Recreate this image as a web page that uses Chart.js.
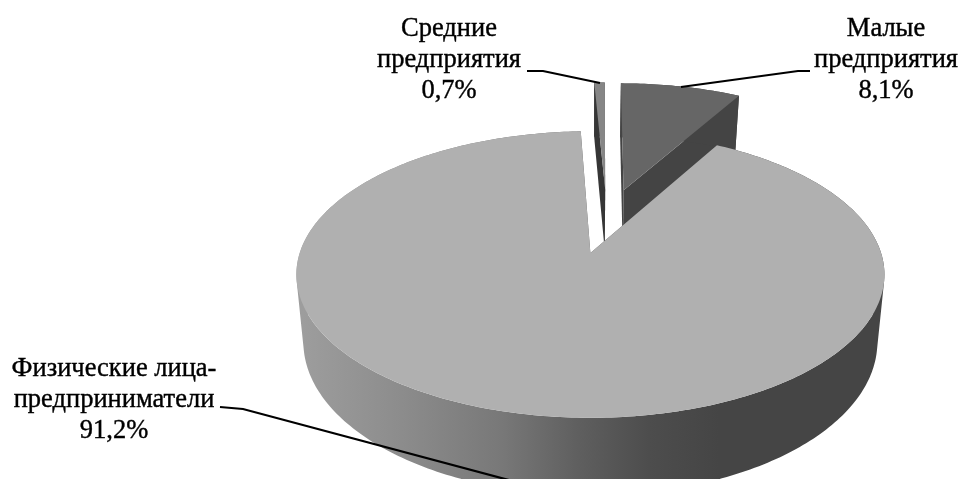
<!DOCTYPE html>
<html lang="ru">
<head>
<meta charset="utf-8">
<title>Структура предприятий</title>
<script src="https://cdn.jsdelivr.net/npm/chart.js@4/dist/chart.umd.min.js"></script>
<style>
    html, body { margin: 0; padding: 0; background: #fff; }
    canvas { display: block; }
</style>
</head>
<body>
<canvas id="grafico" width="964" height="479"></canvas>
<script>
// Datos
const categorias = ['Физические лица-предприниматели', 'Средние предприятия', 'Малые предприятия'];
const valores = [91.2, 0.7, 8.1];
const coloresCara = ['#b0b0b0', '#868686', '#666666'];
const coloresPared = [null, '#363636', '#444444'];

// Etiquetas: lineas de texto, sin el porcentaje
const lineasEtiqueta = [['Физические лица-', 'предприниматели'], ['Средние', 'предприятия'], ['Малые', 'предприятия']];
const centroEtiqueta = [[114, 376], [449, 36], [886, 36]];
const lineasGuia = [
    [[220, 407], [243, 409], [520, 483]],
    [[527, 71], [543, 71], [600, 83]],
    [[681, 87], [798, 71], [810, 71]]
];

// Proyeccion en perspectiva del plano de la tarta
const PERSP = 0.15, ESC_X = 290.7, ESC_Y = 140;
const APICE_X = 590, APICE_Y = 253;   // donde cae el vertice de la porcion grande
const DESP_U = 0.060, DESP_V = 0.241;
const GROSOR = 66, ENCOGE = 0.976, FUGA_X = 589;

function proyectar(arc, px, py) {
    const u = (px - arc.x) / arc.outerRadius + DESP_U;
    const v = (arc.y - py) / arc.outerRadius + DESP_V;
    const w = 1 + PERSP * v;
    return { x: APICE_X + ESC_X * u / w, y: APICE_Y - ESC_Y * v / w, w: w };
}

function abajo(p) {
    return { x: FUGA_X + (p.x - FUGA_X) * ENCOGE, y: p.y + GROSOR / p.w };
}

// Vertice y borde de una porcion, ya proyectados
function geometria(arc) {
    const medio = (arc.startAngle + arc.endAngle) / 2;
    const ox = arc.x + Math.cos(medio) * arc.options.offset;
    const oy = arc.y + Math.sin(medio) * arc.options.offset;
    const borde = [];
    const pasos = Math.max(4, Math.ceil((arc.endAngle - arc.startAngle) * 60));
    for (let i = 0; i <= pasos; i++) {
        const a = arc.startAngle + (arc.endAngle - arc.startAngle) * i / pasos;
        borde.push(proyectar(arc, ox + Math.cos(a) * arc.outerRadius, oy + Math.sin(a) * arc.outerRadius));
    }
    return { apice: proyectar(arc, ox, oy), borde: borde };
}

function rellenar(ctx, puntos, color) {
    ctx.beginPath();
    puntos.forEach((p, i) => i ? ctx.lineTo(p.x, p.y) : ctx.moveTo(p.x, p.y));
    ctx.closePath();
    ctx.fillStyle = color;
    ctx.fill();
}

// Pared curva: todos los tramos en un solo trazado con la misma orientacion, asi no quedan costuras
function rellenarPared(ctx, borde, color) {
    ctx.beginPath();
    for (let k = 0; k < borde.length - 1; k++) {
        let t = [borde[k], borde[k + 1], abajo(borde[k + 1]), abajo(borde[k])];
        let area = 0;
        t.forEach((p, i) => {
            const q = t[(i + 1) % 4];
            area += p.x * q.y - q.x * p.y;
        });
        if (area < 0) t = t.reverse();
        t.forEach((p, i) => i ? ctx.lineTo(p.x, p.y) : ctx.moveTo(p.x, p.y));
        ctx.closePath();
    }
    ctx.fillStyle = color;
    ctx.fill();
}

function degradadoPared(ctx) {
    const g = ctx.createLinearGradient(296, 0, 884, 0);
    g.addColorStop(0, '#9e9e9e');
    g.addColorStop(0.18, '#8c8c8c');
    g.addColorStop(0.35, '#787878');
    g.addColorStop(0.48, '#5f5f5f');
    g.addColorStop(0.6, '#4d4d4d');
    g.addColorStop(0.72, '#454545');
    g.addColorStop(1, '#454545');
    return g;
}

const tarta3d = {
    id: 'tarta3d',
    beforeDatasetsDraw(chart) {
        const ctx = chart.ctx;
        const arcos = chart.getDatasetMeta(0).data;
        // primero las porciones del fondo
        for (let i = arcos.length - 1; i >= 0; i--) {
            const g = geometria(arcos[i]);
            const pared = coloresPared[i] || degradadoPared(ctx);
            const primero = g.borde[0], ultimo = g.borde[g.borde.length - 1];
            rellenar(ctx, [g.apice, primero, abajo(primero), abajo(g.apice)], pared);
            rellenar(ctx, [g.apice, ultimo, abajo(ultimo), abajo(g.apice)], pared);
            rellenarPared(ctx, g.borde, pared);
            rellenar(ctx, [g.apice].concat(g.borde), coloresCara[i]);
        }
        return false;
    },
    afterDraw(chart) {
        const ctx = chart.ctx;
        ctx.strokeStyle = '#000';
        ctx.lineWidth = 2.2;
        lineasGuia.forEach(l => {
            ctx.beginPath();
            l.forEach((p, i) => i ? ctx.lineTo(p[0], p[1]) : ctx.moveTo(p[0], p[1]));
            ctx.stroke();
        });
        ctx.fillStyle = '#000';
        ctx.lineWidth = 0.4;
        ctx.font = '26.5px "Liberation Serif"';
        ctx.textAlign = 'center';
        valores.forEach((v, i) => {
            const textos = lineasEtiqueta[i].concat(String(v).replace('.', ',') + '%');
            textos.forEach((t, j) => {
                const y = centroEtiqueta[i][1] + j * 31;
                ctx.fillText(t, centroEtiqueta[i][0], y);
                ctx.strokeText(t, centroEtiqueta[i][0], y);
            });
        });
    }
};

new Chart(document.getElementById('grafico').getContext('2d'), {
    type: 'pie',
    data: {
        labels: categorias,
        datasets: [{
            data: valores,
            backgroundColor: coloresCara,
            borderWidth: 0,
            offset: 72
        }]
    },
    options: {
        responsive: false,
        animation: false,
        rotation: 29.5,
        radius: 290,
        layout: { padding: { left: 250, bottom: 41 } },
        plugins: { legend: { display: false }, tooltip: { enabled: false } }
    },
    plugins: [tarta3d]
});
</script>
</body>
</html>
